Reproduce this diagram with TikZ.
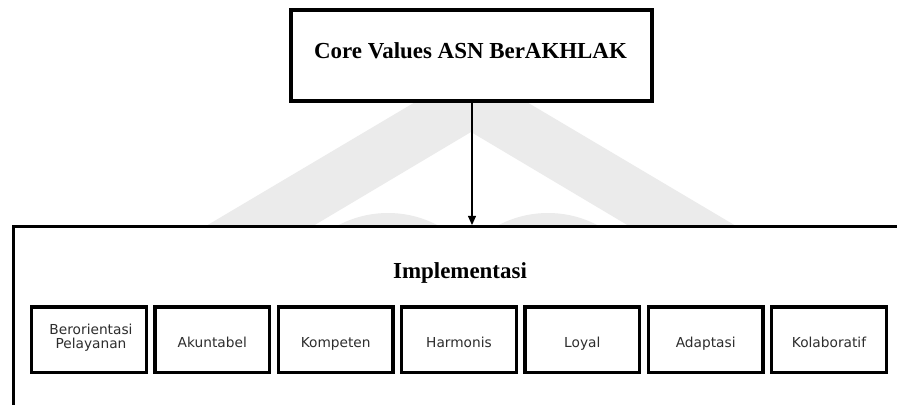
\documentclass[tikz,border=0pt]{standalone}
\usepackage{fontspec}
\setmainfont{Liberation Serif}
\newfontfamily\boxfont{DejaVu Sans}
\usetikzlibrary{arrows.meta}
\definecolor{markgray}{RGB}{235,235,235}
\definecolor{boxtext}{RGB}{45,45,45}

\begin{document}
\begin{tikzpicture}[x=0.75pt,y=-0.75pt,
  headbox/.style={draw=black, line width=3pt, fill=white, inner sep=0pt,
    minimum width=270.75pt, minimum height=68.25pt},
  groupbox/.style={draw=black, line width=2.25pt, fill=white, inner sep=0pt,
    minimum width=687.4pt, minimum height=160pt},
  valuebox/.style={draw=black, line width=2.6pt, fill=white, inner sep=0pt,
    minimum width=85.9pt, minimum height=49.1pt},
  headtext/.style={font=\fontsize{17.2}{20}\selectfont\bfseries, inner sep=0pt},
  valuetext/.style={font=\boxfont\fontsize{10.3}{10.5}\selectfont, text=boxtext,
    inner sep=0pt, align=center},
  link/.style={draw=black, line width=1.1pt, -{Triangle[length=7pt,width=6pt]}}
]
\useasboundingbox (0,0) rectangle (897,404);
\clip (0,0) rectangle (897,404);
\fill[white] (0,0) rectangle (897,404);

% faint logo behind the diagram: inverted V and two arcs
\fill[markgray] (206,226) -- (471,69) -- (736,226) -- (629,226)
  -- (471,132) -- (313,226) -- cycle;
\fill[markgray] (388,319.5) circle[radius=106.5];
\fill[markgray] (548,319.5) circle[radius=106.5];

% outer frame of the implementation group (runs past the page edge)
\node[groupbox] (impl) at (471.75,333.25) {};

% top box
\node[headbox] (cv) at (471.5,55.5) {};
\node[headtext, anchor=base] (cvtext) at (470.5,58) {Core Values ASN BerAKHLAK};

% connector
\draw[link] (cv.south -| 472,0) -- (impl.north -| 472,0);

% group title
\node[headtext, anchor=base] (title) at (460,278) {Implementasi};

% seven value boxes
\coordinate (base) at (0,347);
\foreach \i/\x in {1/89, 2/212.3, 3/335.7, 4/459, 5/582.3, 6/705.7, 7/829}
  \node[valuebox] (b\i) at (\x,339.5) {};

\node[valuetext] (t1) at (91,337.5) {Berorientasi\\Pelayanan};
\node[valuetext, anchor=base] (t2) at (b2 |- base) {Akuntabel};
\node[valuetext, anchor=base] (t3) at (b3 |- base) {Kompeten};
\node[valuetext, anchor=base] (t4) at (b4 |- base) {Harmonis};
\node[valuetext, anchor=base] (t5) at (b5 |- base) {Loyal};
\node[valuetext, anchor=base] (t6) at (b6 |- base) {Adaptasi};
\node[valuetext, anchor=base] (t7) at (b7 |- base) {Kolaboratif};
\end{tikzpicture}
\end{document}
